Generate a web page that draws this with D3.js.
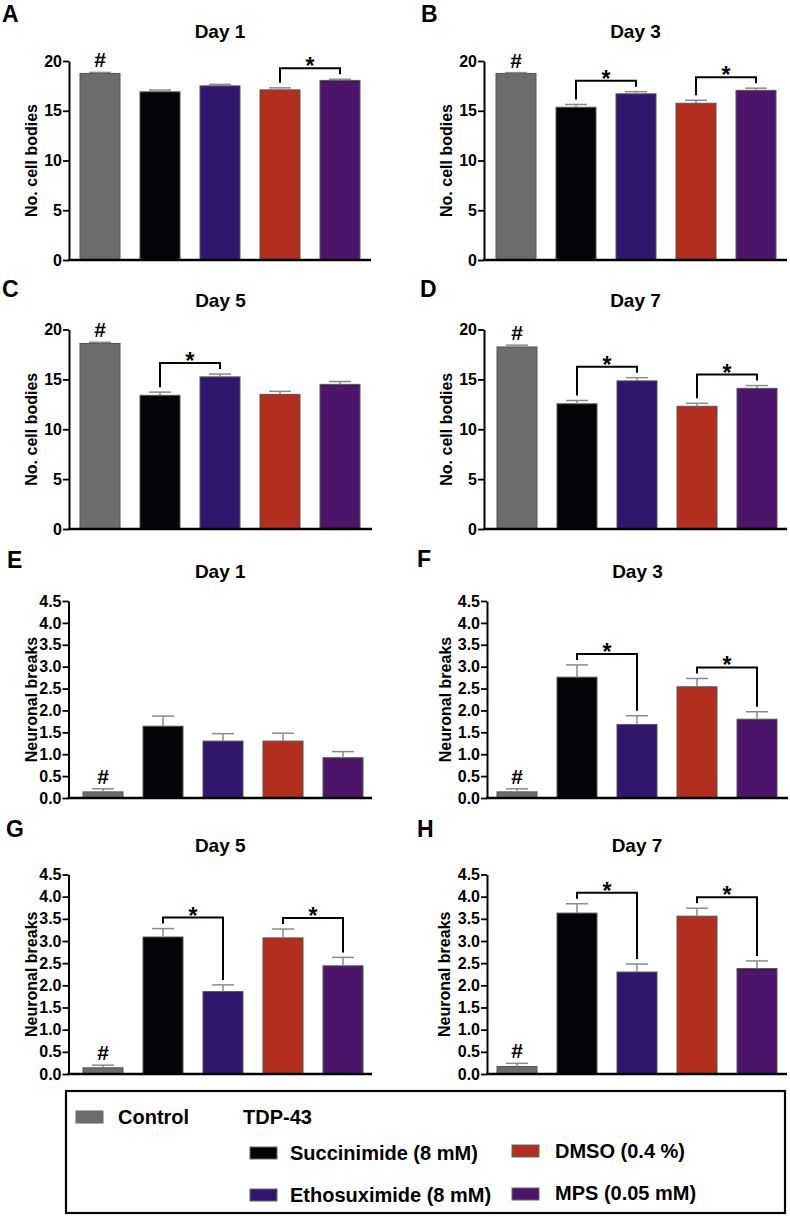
<!DOCTYPE html>
<html><head><meta charset="utf-8">
<script src="https://cdn.jsdelivr.net/npm/d3@7"></script>
<style>
body{margin:0;background:#fff}
text{font-family:"Liberation Sans",Arial,Helvetica,sans-serif;font-weight:bold;fill:#000}
</style>
</head><body>
<svg id="c" width="790" height="1217"></svg>
<script>
// ---------- DATA ----------
const groups = ["Control", "Succinimide (8 mM)", "Ethosuximide (8 mM)", "DMSO (0.4 %)", "MPS (0.05 mM)"];
const groupColors = ["#6c6c6c", "#050308", "#31166e", "#b22e1f", "#4d1569"];

const cellTicks = [0, 5, 10, 15, 20];
const breakTicks = [0, 0.5, 1.0, 1.5, 2.0, 2.5, 3.0, 3.5, 4.0, 4.5];

const cellDay1 = [18.75, 16.9, 17.5, 17.1, 18.05];
const cellDay1Err = [0.1, 0.18, 0.15, 0.2, 0.12];
const cellDay3 = [18.75, 15.35, 16.7, 15.75, 17.05];
const cellDay3Err = [0.08, 0.28, 0.22, 0.3, 0.22];
const cellDay5 = [18.6, 13.4, 15.25, 13.5, 14.5];
const cellDay5Err = [0.12, 0.32, 0.28, 0.3, 0.28];
const cellDay7 = [18.25, 12.55, 14.85, 12.3, 14.1];
const cellDay7Err = [0.18, 0.33, 0.32, 0.3, 0.28];

const breaksDay1 = [0.14, 1.64, 1.3, 1.3, 0.92];
const breaksDay1Err = [0.07, 0.23, 0.17, 0.18, 0.14];
const breaksDay3 = [0.14, 2.76, 1.68, 2.54, 1.8];
const breaksDay3Err = [0.07, 0.28, 0.2, 0.19, 0.17];
const breaksDay5 = [0.14, 3.09, 1.86, 3.07, 2.44];
const breaksDay5Err = [0.06, 0.19, 0.15, 0.2, 0.19];
const breaksDay7 = [0.17, 3.63, 2.3, 3.56, 2.38];
const breaksDay7Err = [0.07, 0.21, 0.18, 0.18, 0.17];

// significance brackets: pairs of group indices
const sigCellDay1 = [[3, 4]];
const sigCellDay3 = [[1, 2], [3, 4]];
const sigCellDay5 = [[1, 2]];
const sigCellDay7 = [[1, 2], [3, 4]];
const sigBreaksDay1 = [];
const sigBreaksDay3 = [[1, 2], [3, 4]];
const sigBreaksDay5 = [[1, 2], [3, 4]];
const sigBreaksDay7 = [[1, 2], [3, 4]];

const panels = [
  {letter: "A", title: "Day 1", label: "No. cell bodies", ticks: cellTicks, mean: cellDay1, err: cellDay1Err, sig: sigCellDay1},
  {letter: "B", title: "Day 3", label: "No. cell bodies", ticks: cellTicks, mean: cellDay3, err: cellDay3Err, sig: sigCellDay3},
  {letter: "C", title: "Day 5", label: "No. cell bodies", ticks: cellTicks, mean: cellDay5, err: cellDay5Err, sig: sigCellDay5},
  {letter: "D", title: "Day 7", label: "No. cell bodies", ticks: cellTicks, mean: cellDay7, err: cellDay7Err, sig: sigCellDay7},
  {letter: "E", title: "Day 1", label: "Neuronal breaks", ticks: breakTicks, mean: breaksDay1, err: breaksDay1Err, sig: sigBreaksDay1},
  {letter: "F", title: "Day 3", label: "Neuronal breaks", ticks: breakTicks, mean: breaksDay3, err: breaksDay3Err, sig: sigBreaksDay3},
  {letter: "G", title: "Day 5", label: "Neuronal breaks", ticks: breakTicks, mean: breaksDay5, err: breaksDay5Err, sig: sigBreaksDay5},
  {letter: "H", title: "Day 7", label: "Neuronal breaks", ticks: breakTicks, mean: breaksDay7, err: breaksDay7Err, sig: sigBreaksDay7}
];

// ---------- LAYOUT ----------
const layout = {
  A: {ax: 69, bx: 80, ex: 371, y0: 260, y1: 61, lx: 2, ly: 22, labX: 37},
  B: {ax: 484, bx: 496, ex: 787, y0: 260, y1: 61, lx: 421, ly: 22, labX: 452},
  C: {ax: 69, bx: 80, ex: 372, y0: 529, y1: 329.5, lx: 2, ly: 297, labX: 37},
  D: {ax: 484, bx: 497, ex: 787, y0: 529, y1: 329.5, lx: 420, ly: 297, labX: 452},
  E: {ax: 68.5, bx: 83, ex: 372, y0: 798, y1: 601, lx: 7, ly: 568, labX: 37},
  F: {ax: 487, bx: 497, ex: 788, y0: 798, y1: 601, lx: 417, ly: 567, labX: 451},
  G: {ax: 68.5, bx: 83, ex: 372, y0: 1074, y1: 874.5, lx: 6, ly: 837, labX: 37},
  H: {ax: 487, bx: 497, ex: 787, y0: 1074, y1: 874.5, lx: 417, ly: 837, labX: 450}
};

const svg = d3.select("#c");

panels.forEach(p => {
  const L = layout[p.letter];
  const g = svg.append("g");
  const maxV = p.ticks[p.ticks.length - 1];
  const y = d3.scaleLinear().domain([0, maxV]).range([L.y0, L.y1]);
  const x = d3.scaleBand().domain(d3.range(groups.length))
    .range([L.bx - 10, L.bx + 290]).paddingInner(1 / 3).paddingOuter(1 / 6);
  const fmt = maxV > 10 ? d3.format("d") : d3.format(".1f");

  // bars
  g.selectAll("rect.bar").data(p.mean).join("rect")
    .attr("x", (d, i) => x(i)).attr("width", x.bandwidth())
    .attr("y", d => y(d)).attr("height", d => y(0) - y(d))
    .attr("fill", (d, i) => groupColors[i])
    .attr("stroke", "#555").attr("stroke-width", 1);

  // error bars (upper)
  const eb = g.selectAll("g.eb").data(p.mean).join("g");
  eb.append("line")
    .attr("x1", (d, i) => x(i) + x.bandwidth() / 2).attr("x2", (d, i) => x(i) + x.bandwidth() / 2)
    .attr("y1", d => y(d)).attr("y2", (d, i) => y(d + p.err[i]))
    .attr("stroke", "#8a8a8a").attr("stroke-width", 1.5);
  eb.append("line")
    .attr("x1", (d, i) => x(i) + x.bandwidth() / 2 - 11).attr("x2", (d, i) => x(i) + x.bandwidth() / 2 + 11)
    .attr("y1", (d, i) => y(d + p.err[i])).attr("y2", (d, i) => y(d + p.err[i]))
    .attr("stroke", "#8a8a8a").attr("stroke-width", 1.5);

  // y axis
  const yAxis = d3.axisLeft(y).tickValues(p.ticks).tickFormat(fmt).tickSize(6).tickPadding(1).tickSizeOuter(0);
  const ga = g.append("g").attr("transform", `translate(${L.ax},0)`).call(yAxis);
  ga.select(".domain").attr("stroke", "#000").attr("stroke-width", 2);
  ga.selectAll(".tick line").attr("stroke", "#000").attr("stroke-width", 1.8);
  ga.selectAll(".tick text").style("font-size", "16px").style("font-weight", "bold")
    .style("font-family", '"Liberation Sans",Arial,sans-serif').attr("fill", "#000");

  // x axis line
  g.append("line").attr("x1", L.ax - 1).attr("x2", L.ex).attr("y1", y(0)).attr("y2", y(0))
    .attr("stroke", "#000").attr("stroke-width", 2.6);

  // # over control
  g.append("text").attr("x", x(0) + x.bandwidth() / 2).attr("y", y(p.mean[0] + p.err[0]) - 5)
    .attr("text-anchor", "middle").style("font-size", "21px").text("#");

  // brackets
  p.sig.forEach(([a, b]) => {
    const xa = x(a) + x.bandwidth() / 2, xb = x(b) + x.bandwidth() / 2;
    const ya = y(p.mean[a] + p.err[a]), yb = y(p.mean[b] + p.err[b]);
    const top = Math.min(ya, yb) - 11;
    g.append("path").attr("d", `M${xa},${ya - 5}V${top}H${xb}V${yb - 5}`)
      .attr("fill", "none").attr("stroke", "#000").attr("stroke-width", 2);
    g.append("text").attr("x", (xa + xb) / 2).attr("y", top + 6)
      .attr("text-anchor", "middle").style("font-size", "23px").text("*");
  });

  // title
  g.append("text").attr("x", (L.ax + L.ex) / 2).attr("y", L.y1 - 23)
    .attr("text-anchor", "middle").style("font-size", "19px").text(p.title);

  // y label
  g.append("text").attr("transform", `translate(${L.labX},${(L.y0 + L.y1) / 2}) rotate(-90)`)
    .attr("text-anchor", "middle").style("font-size", "16px").text(p.label);

  // panel letter
  g.append("text").attr("x", L.lx).attr("y", L.ly).style("font-size", "23px").text(p.letter);
});

// ---------- LEGEND ----------
const leg = svg.append("g");
leg.append("rect").attr("x", 66).attr("y", 1091).attr("width", 719).attr("height", 122)
  .attr("fill", "none").attr("stroke", "#000").attr("stroke-width", 2.2);

const legendItems = [
  {i: 0, sx: 76, sy: 1111, tx: 118, ty: 1124},
  {i: 1, sx: 250, sy: 1147, tx: 290, ty: 1160},
  {i: 3, sx: 512, sy: 1145, tx: 555, ty: 1158},
  {i: 2, sx: 250, sy: 1189, tx: 290, ty: 1202},
  {i: 4, sx: 512, sy: 1188, tx: 555, ty: 1200}
];
legendItems.forEach(it => {
  leg.append("rect").attr("x", it.sx).attr("y", it.sy).attr("width", 27).attr("height", 12)
    .attr("fill", groupColors[it.i]).attr("stroke", "#666").attr("stroke-width", 1);
  leg.append("text").attr("x", it.tx).attr("y", it.ty).style("font-size", "20px").text(groups[it.i]);
});
leg.append("text").attr("x", 243).attr("y", 1124).style("font-size", "20px").text("TDP-43");
</script>
</body></html>
